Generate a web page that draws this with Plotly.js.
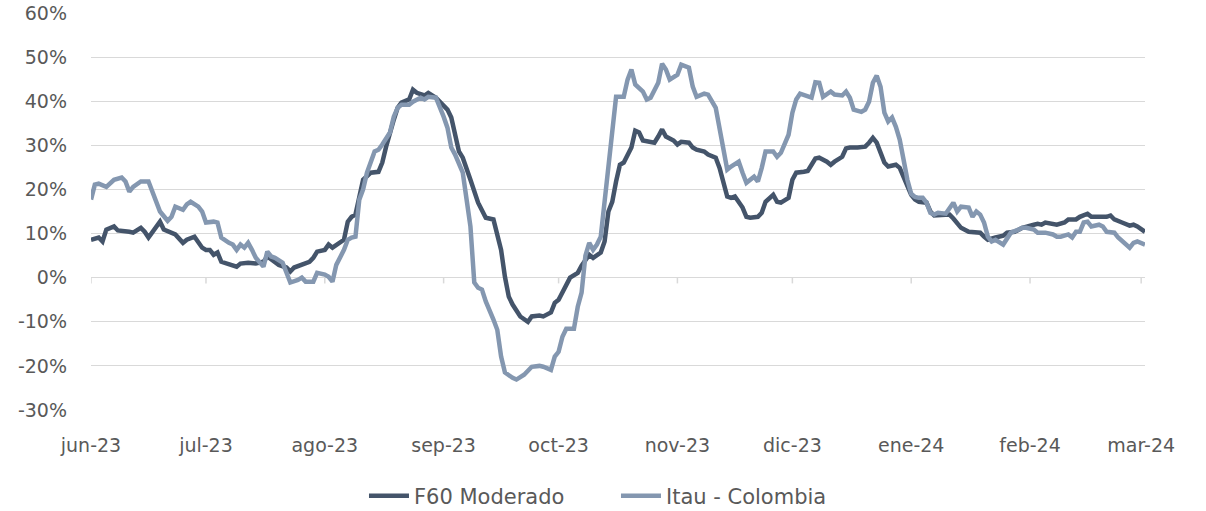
<!DOCTYPE html>
<html>
<head>
<meta charset="utf-8">
<script src="https://cdn.plot.ly/plotly-3.0.1.min.js"></script>
<style>
html,body{margin:0;padding:0;background:#fff;}
#chart{width:1206px;height:511px;}
</style>
</head>
<body>
<div id="chart"></div>
<script>
// ---- Data (values in %) ----
const f60Dates = ["2023-06-01","2023-06-03","2023-06-04","2023-06-05","2023-06-07","2023-06-08","2023-06-11","2023-06-12","2023-06-14","2023-06-15","2023-06-16","2023-06-17","2023-06-19","2023-06-20","2023-06-22","2023-06-23","2023-06-25","2023-06-26","2023-06-28","2023-06-29","2023-06-30","2023-07-01","2023-07-02","2023-07-03","2023-07-04","2023-07-05","2023-07-08","2023-07-09","2023-07-10","2023-07-12","2023-07-14","2023-07-16","2023-07-17","2023-07-18","2023-07-20","2023-07-22","2023-07-23","2023-07-24","2023-07-26","2023-07-28","2023-07-29","2023-07-30","2023-08-01","2023-08-02","2023-08-03","2023-08-04","2023-08-06","2023-08-07","2023-08-08","2023-08-09","2023-08-10","2023-08-11","2023-08-13","2023-08-15","2023-08-16","2023-08-17","2023-08-19","2023-08-20","2023-08-21","2023-08-23","2023-08-24","2023-08-25","2023-08-27","2023-08-28","2023-08-30","2023-09-01","2023-09-02","2023-09-03","2023-09-04","2023-09-05","2023-09-06","2023-09-07","2023-09-08","2023-09-10","2023-09-11","2023-09-12","2023-09-14","2023-09-15","2023-09-16","2023-09-17","2023-09-18","2023-09-19","2023-09-20","2023-09-21","2023-09-23","2023-09-24","2023-09-26","2023-09-27","2023-09-29","2023-09-30","2023-10-01","2023-10-03","2023-10-04","2023-10-06","2023-10-07","2023-10-09","2023-10-10","2023-10-12","2023-10-13","2023-10-14","2023-10-15","2023-10-16","2023-10-17","2023-10-18","2023-10-20","2023-10-21","2023-10-22","2023-10-23","2023-10-25","2023-10-26","2023-10-27","2023-10-28","2023-10-29","2023-10-31","2023-11-01","2023-11-02","2023-11-04","2023-11-05","2023-11-06","2023-11-08","2023-11-09","2023-11-11","2023-11-12","2023-11-13","2023-11-14","2023-11-15","2023-11-16","2023-11-18","2023-11-19","2023-11-20","2023-11-22","2023-11-23","2023-11-24","2023-11-26","2023-11-27","2023-11-28","2023-11-30","2023-12-01","2023-12-02","2023-12-04","2023-12-05","2023-12-07","2023-12-08","2023-12-10","2023-12-11","2023-12-12","2023-12-14","2023-12-15","2023-12-16","2023-12-18","2023-12-20","2023-12-21","2023-12-22","2023-12-23","2023-12-24","2023-12-25","2023-12-26","2023-12-28","2023-12-29","2023-12-30","2023-12-31","2024-01-01","2024-01-02","2024-01-03","2024-01-05","2024-01-06","2024-01-07","2024-01-08","2024-01-09","2024-01-11","2024-01-12","2024-01-13","2024-01-14","2024-01-16","2024-01-18","2024-01-19","2024-01-20","2024-01-21","2024-01-23","2024-01-25","2024-01-26","2024-01-28","2024-01-30","2024-01-31","2024-02-02","2024-02-03","2024-02-04","2024-02-05","2024-02-07","2024-02-08","2024-02-10","2024-02-11","2024-02-13","2024-02-14","2024-02-16","2024-02-17","2024-02-19","2024-02-21","2024-02-22","2024-02-23","2024-02-25","2024-02-27","2024-02-28","2024-02-29","2024-03-02"];
const f60Values = [8.6,9.1,8.2,10.9,11.6,10.7,10.4,10.2,11.3,10.4,9.1,10.4,12.7,10.9,10.2,9.8,7.9,8.6,9.3,8.2,6.8,6.3,6.3,5.2,5.7,3.6,2.9,2.5,3.2,3.4,3.2,3.6,4.8,4.1,2.9,2.3,1.4,2.3,2.9,3.6,4.5,5.9,6.3,7.5,6.8,7.5,8.6,12.7,13.8,14.3,18.4,22.2,23.8,24.0,26.1,29.7,35.8,38.5,39.7,40.4,42.6,41.9,41.3,41.9,40.8,38.8,38.1,36.3,32.9,28.6,27.2,24.9,22.2,17.0,15.0,13.6,13.2,9.8,6.3,0.2,-4.3,-6.1,-7.3,-8.8,-10.0,-8.8,-8.6,-8.8,-7.9,-5.7,-5.0,-2.0,0.0,1.1,2.7,5.2,4.5,5.7,8.2,15.0,17.2,21.8,25.6,26.1,29.5,33.3,32.9,31.1,30.8,30.6,32.0,33.6,32.0,31.1,30.2,30.8,30.6,29.5,29.0,28.6,27.9,27.2,24.9,21.1,18.4,18.1,18.4,15.9,13.8,13.6,13.8,14.7,17.2,18.8,17.2,17.0,18.1,22.2,23.8,24.0,24.2,27.0,27.2,26.3,25.6,26.3,27.4,29.3,29.5,29.5,29.7,30.6,31.7,30.6,28.6,26.1,25.2,25.6,24.9,22.9,20.6,18.8,17.7,17.2,17.0,15.0,14.1,14.1,14.3,14.3,13.4,12.2,11.3,10.4,10.2,10.2,9.3,8.6,9.1,9.5,10.2,10.4,11.3,11.6,12.0,12.2,12.0,12.5,12.0,12.0,12.5,13.2,13.2,13.8,14.5,13.8,13.8,13.8,14.1,13.2,12.5,11.8,12.0,11.6,10.4];

const itauDates = ["2023-06-01","2023-06-02","2023-06-03","2023-06-05","2023-06-07","2023-06-09","2023-06-10","2023-06-11","2023-06-12","2023-06-14","2023-06-16","2023-06-17","2023-06-18","2023-06-19","2023-06-21","2023-06-22","2023-06-23","2023-06-25","2023-06-26","2023-06-27","2023-06-29","2023-06-30","2023-07-01","2023-07-03","2023-07-04","2023-07-05","2023-07-07","2023-07-08","2023-07-09","2023-07-10","2023-07-11","2023-07-12","2023-07-13","2023-07-14","2023-07-16","2023-07-17","2023-07-18","2023-07-19","2023-07-21","2023-07-22","2023-07-23","2023-07-25","2023-07-26","2023-07-27","2023-07-29","2023-07-30","2023-08-01","2023-08-02","2023-08-03","2023-08-04","2023-08-06","2023-08-07","2023-08-08","2023-08-09","2023-08-10","2023-08-11","2023-08-12","2023-08-14","2023-08-15","2023-08-16","2023-08-18","2023-08-19","2023-08-20","2023-08-21","2023-08-23","2023-08-24","2023-08-26","2023-08-27","2023-08-28","2023-08-30","2023-08-31","2023-09-01","2023-09-02","2023-09-03","2023-09-04","2023-09-06","2023-09-07","2023-09-08","2023-09-09","2023-09-10","2023-09-11","2023-09-12","2023-09-14","2023-09-15","2023-09-16","2023-09-17","2023-09-19","2023-09-20","2023-09-22","2023-09-23","2023-09-24","2023-09-26","2023-09-27","2023-09-29","2023-09-30","2023-10-01","2023-10-02","2023-10-03","2023-10-05","2023-10-06","2023-10-07","2023-10-08","2023-10-09","2023-10-10","2023-10-11","2023-10-12","2023-10-13","2023-10-14","2023-10-15","2023-10-16","2023-10-18","2023-10-19","2023-10-20","2023-10-21","2023-10-23","2023-10-24","2023-10-25","2023-10-27","2023-10-28","2023-10-29","2023-10-30","2023-11-01","2023-11-02","2023-11-04","2023-11-05","2023-11-06","2023-11-08","2023-11-09","2023-11-11","2023-11-12","2023-11-13","2023-11-14","2023-11-15","2023-11-17","2023-11-18","2023-11-19","2023-11-21","2023-11-22","2023-11-23","2023-11-24","2023-11-26","2023-11-27","2023-11-28","2023-11-30","2023-12-01","2023-12-02","2023-12-03","2023-12-05","2023-12-06","2023-12-07","2023-12-08","2023-12-09","2023-12-11","2023-12-12","2023-12-14","2023-12-15","2023-12-16","2023-12-17","2023-12-19","2023-12-20","2023-12-21","2023-12-22","2023-12-23","2023-12-24","2023-12-25","2023-12-26","2023-12-27","2023-12-28","2023-12-29","2023-12-30","2023-12-31","2024-01-01","2024-01-02","2024-01-03","2024-01-04","2024-01-05","2024-01-06","2024-01-07","2024-01-08","2024-01-10","2024-01-11","2024-01-12","2024-01-13","2024-01-14","2024-01-16","2024-01-17","2024-01-18","2024-01-19","2024-01-20","2024-01-21","2024-01-22","2024-01-23","2024-01-25","2024-01-26","2024-01-27","2024-01-29","2024-01-30","2024-01-31","2024-02-02","2024-02-03","2024-02-04","2024-02-05","2024-02-07","2024-02-08","2024-02-09","2024-02-11","2024-02-12","2024-02-13","2024-02-14","2024-02-15","2024-02-16","2024-02-17","2024-02-19","2024-02-20","2024-02-21","2024-02-23","2024-02-24","2024-02-26","2024-02-27","2024-02-28","2024-02-29","2024-03-02"];
const itauValues = [17.7,21.1,21.3,20.6,22.2,22.7,21.8,19.5,20.6,21.8,21.8,19.5,17.0,15.0,12.9,13.8,16.1,15.4,16.6,17.2,16.1,15.0,12.5,12.7,12.5,9.1,7.9,7.5,6.3,7.5,6.8,7.9,6.3,4.5,2.5,5.9,4.8,4.5,3.4,1.4,-1.1,-0.5,0.0,-0.9,-0.9,1.1,0.7,0.2,-0.9,2.9,6.3,8.6,9.1,9.3,17.7,20.0,23.8,28.6,29.0,30.2,32.9,36.5,38.5,39.2,39.2,39.9,40.8,40.4,41.0,40.8,38.8,36.5,34.0,29.5,27.9,23.8,17.7,11.6,-1.1,-2.3,-2.7,-5.4,-9.5,-11.8,-17.9,-21.5,-22.7,-23.1,-22.0,-20.9,-20.2,-20.0,-20.2,-20.9,-17.9,-16.8,-13.4,-11.6,-11.6,-6.6,-3.4,5.0,7.9,6.3,7.5,9.3,17.2,25.6,32.4,41.0,41.0,44.9,47.2,43.8,42.2,40.4,40.8,44.2,48.5,47.2,44.9,46.0,48.3,47.6,43.3,41.0,41.7,41.5,38.5,34.0,28.6,24.5,25.2,26.3,23.8,21.5,22.9,21.8,24.9,28.6,28.6,27.4,28.3,32.4,37.4,40.4,41.7,41.0,40.8,44.3,44.2,41.0,42.2,41.5,41.3,42.2,40.8,38.1,37.6,38.1,39.9,44.2,45.8,43.3,37.4,35.4,36.3,34.2,31.3,26.8,22.2,19.0,18.3,18.1,18.1,17.0,14.7,14.3,14.7,14.5,15.9,17.0,15.0,16.1,15.9,13.8,15.0,14.3,12.5,9.3,8.2,8.6,7.5,9.1,10.2,10.9,11.3,11.3,10.9,10.2,10.2,10.2,9.8,9.3,9.3,9.8,9.1,10.4,10.4,12.5,12.7,11.6,12.0,11.6,10.4,10.2,9.1,7.5,6.8,7.9,8.2,7.5];

const seriesNames = ["F60 Moderado", "Itau - Colombia"];
const monthTicks = ["2023-06-01","2023-07-01","2023-08-01","2023-09-01","2023-10-01","2023-11-01","2023-12-01","2024-01-01","2024-02-01","2024-03-01"];
const monthLabels = ["jun-23","jul-23","ago-23","sep-23","oct-23","nov-23","dic-23","ene-24","feb-24","mar-24"];
const yTicks = [-30,-20,-10,0,10,20,30,40,50,60];

// ---- Styles ----
const darkColor = "#44546A";
const lightColor = "#8497B0";
const gridColor = "#D9D9D9";
const textColor = "#595959";
const fontFamily = "'DejaVu Sans', 'Open Sans', sans-serif";

const traces = [
  {x: f60Dates, y: f60Values, name: seriesNames[0], type: "scatter", mode: "lines",
   line: {color: darkColor, width: 4.5, shape: "linear"}},
  {x: itauDates, y: itauValues, name: seriesNames[1], type: "scatter", mode: "lines",
   line: {color: lightColor, width: 4.5, shape: "linear"}}
];

// small tick marks on the 0% axis line at each month
const tickShapes = monthTicks.map(d => ({
  type: "line", xref: "x", yref: "y", x0: d, x1: d, y0: 0, y1: -1.3,
  line: {color: gridColor, width: 1.5}, layer: "below"
}));

const layout = {
  width: 1206, height: 511,
  margin: {l: 91, r: 61, t: 13, b: 101, pad: 0, autoexpand: false},
  paper_bgcolor: "#ffffff", plot_bgcolor: "#ffffff",
  font: {family: fontFamily, size: 19, color: textColor},
  showlegend: true,
  legend: {orientation: "h", x: 0.259, xanchor: "left", y: -0.217, yanchor: "middle",
           font: {size: 21, color: textColor}, itemwidth: 40, tracegroupgap: 0,
           entrywidth: 197, entrywidthmode: "pixels"},
  xaxis: {
    type: "date", range: ["2023-06-01", "2024-03-02"], automargin: false,
    tickmode: "array", tickvals: monthTicks, ticktext: monthLabels,
    showgrid: false, zeroline: false, showline: false,
    ticks: "", ticklabelstandoff: 22,
    tickfont: {size: 19, color: textColor}
  },
  yaxis: {
    range: [-30, 60], automargin: false, tickmode: "array", tickvals: yTicks,
    ticktext: yTicks.map(v => v + "%"),
    showgrid: true, gridcolor: gridColor, gridwidth: 1,
    zeroline: true, zerolinecolor: gridColor, zerolinewidth: 1.5,
    showline: false, ticks: "", ticklabelstandoff: 23,
    tickfont: {size: 19, color: textColor}
  },
  shapes: tickShapes
};

Plotly.newPlot("chart", traces, layout, {displayModeBar: false, staticPlot: true});
</script>
</body>
</html>
